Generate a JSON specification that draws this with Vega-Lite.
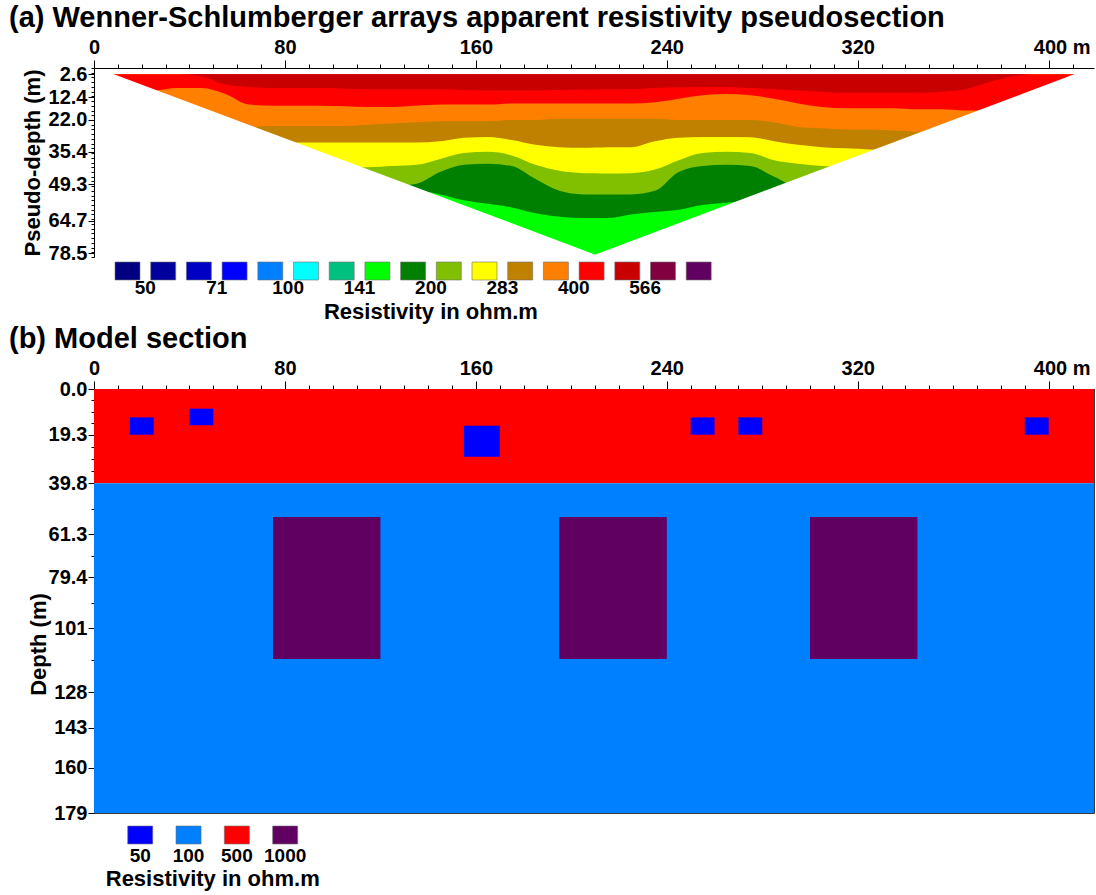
{
  "$schema": "https://vega.github.io/schema/vega-lite/v6.json",
  "background": "white",
  "padding": {"left": 8, "top": 4, "right": 2, "bottom": 2},
  "bounds": "flush",
  "spacing": 5,
  "config": {
    "font": "Liberation Sans",
    "view": {"stroke": null},
    "axis": {
      "labelFont": "Liberation Sans", "labelFontWeight": "bold", "labelFontSize": 20, "labelColor": "black",
      "titleFont": "Liberation Sans", "titleFontWeight": "bold", "titleFontSize": 22, "titleColor": "black",
      "domainColor": "black", "tickColor": "black", "grid": false,
      "labelOverlap": false, "labelFlush": false, "labelBound": false, "zindex": 1
    },
    "title": {"font": "Liberation Sans", "fontWeight": "bold", "fontSize": 29, "color": "black", "anchor": "start", "frame": "group", "dx": -85, "offset": 4},
    "text": {"font": "Liberation Sans", "fontWeight": "bold", "color": "black"}
  },
  "datasets": {
    "pseudo": [
      {"x": 7.4, "b1": 2.6, "b2": 6, "b3": 30, "b4": 33, "b5": 42, "b6": 50, "b7": 55},
      {"x": 15, "b1": 2.6, "b2": 6.5, "b3": 30, "b4": 33, "b5": 42, "b6": 50, "b7": 55},
      {"x": 25, "b1": 2.6, "b2": 9.5, "b3": 30, "b4": 33, "b5": 42, "b6": 50, "b7": 55},
      {"x": 35, "b1": 2.6, "b2": 8.5, "b3": 30, "b4": 33, "b5": 42, "b6": 50, "b7": 55},
      {"x": 45, "b1": 3.5, "b2": 8.5, "b3": 30, "b4": 33, "b5": 42, "b6": 50, "b7": 55},
      {"x": 55, "b1": 7, "b2": 11, "b3": 30, "b4": 33, "b5": 42, "b6": 50, "b7": 55},
      {"x": 65, "b1": 8, "b2": 15.5, "b3": 25, "b4": 33, "b5": 42, "b6": 50, "b7": 55},
      {"x": 75, "b1": 8.5, "b2": 16, "b3": 24.5, "b4": 33, "b5": 42, "b6": 50, "b7": 55},
      {"x": 85, "b1": 8.5, "b2": 16, "b3": 24.5, "b4": 31.5, "b5": 42, "b6": 50, "b7": 55},
      {"x": 95, "b1": 8.5, "b2": 16, "b3": 24.5, "b4": 31.5, "b5": 42, "b6": 50, "b7": 55},
      {"x": 105, "b1": 8.8, "b2": 16.2, "b3": 24.5, "b4": 31.5, "b5": 42, "b6": 50, "b7": 55},
      {"x": 115, "b1": 9, "b2": 16.5, "b3": 24, "b4": 31.5, "b5": 42, "b6": 50, "b7": 55},
      {"x": 125, "b1": 9, "b2": 16.5, "b3": 23.5, "b4": 31.5, "b5": 41.5, "b6": 50, "b7": 55},
      {"x": 135, "b1": 9, "b2": 16, "b3": 23, "b4": 31.5, "b5": 41, "b6": 49, "b7": 52},
      {"x": 145, "b1": 9, "b2": 15.5, "b3": 22.5, "b4": 31, "b5": 38.5, "b6": 44, "b7": 53.5},
      {"x": 155, "b1": 9.3, "b2": 15.5, "b3": 22.5, "b4": 29.5, "b5": 36, "b6": 41, "b7": 56},
      {"x": 165, "b1": 9.5, "b2": 15.5, "b3": 22.5, "b4": 29.2, "b5": 35.5, "b6": 40.5, "b7": 57.5},
      {"x": 175, "b1": 9.5, "b2": 15, "b3": 22, "b4": 30.5, "b5": 37, "b6": 41.5, "b7": 59},
      {"x": 185, "b1": 9.5, "b2": 15, "b3": 22, "b4": 32.5, "b5": 41, "b6": 47, "b7": 61.5},
      {"x": 195, "b1": 9.3, "b2": 15, "b3": 21.5, "b4": 33.5, "b5": 43.5, "b6": 52, "b7": 63},
      {"x": 205, "b1": 9.2, "b2": 15, "b3": 21.5, "b4": 33.8, "b5": 44.5, "b6": 53.5, "b7": 63.5},
      {"x": 210, "b1": 9.1, "b2": 15, "b3": 21.5, "b4": 33.7, "b5": 44.6, "b6": 53.5, "b7": 63.5},
      {"x": 215, "b1": 9, "b2": 15, "b3": 21.5, "b4": 33.5, "b5": 44.7, "b6": 53.5, "b7": 63.5},
      {"x": 225, "b1": 9, "b2": 15, "b3": 21.5, "b4": 33.5, "b5": 44.5, "b6": 53.5, "b7": 62},
      {"x": 235, "b1": 8.5, "b2": 14.5, "b3": 21.5, "b4": 31, "b5": 43, "b6": 52, "b7": 61},
      {"x": 245, "b1": 8.2, "b2": 13, "b3": 22, "b4": 29.5, "b5": 39, "b6": 44, "b7": 60},
      {"x": 255, "b1": 8, "b2": 11.5, "b3": 22, "b4": 29.2, "b5": 36, "b6": 41.5, "b7": 58},
      {"x": 265, "b1": 8, "b2": 11, "b3": 22, "b4": 29.2, "b5": 35.5, "b6": 41, "b7": 57},
      {"x": 275, "b1": 8.5, "b2": 11.5, "b3": 22, "b4": 29.3, "b5": 36, "b6": 41.5, "b7": 56},
      {"x": 285, "b1": 9, "b2": 13, "b3": 23, "b4": 31, "b5": 39, "b6": 46, "b7": 55},
      {"x": 295, "b1": 9.5, "b2": 15, "b3": 25, "b4": 32.5, "b5": 40.5, "b6": 50, "b7": 55},
      {"x": 305, "b1": 10, "b2": 16.5, "b3": 25.5, "b4": 33.5, "b5": 41.5, "b6": 50, "b7": 55},
      {"x": 315, "b1": 10.5, "b2": 17, "b3": 26, "b4": 34, "b5": 42, "b6": 50, "b7": 55},
      {"x": 325, "b1": 10.5, "b2": 17, "b3": 26, "b4": 34.5, "b5": 42, "b6": 50, "b7": 55},
      {"x": 335, "b1": 10.5, "b2": 17, "b3": 26.5, "b4": 35, "b5": 42, "b6": 50, "b7": 55},
      {"x": 345, "b1": 10.5, "b2": 17.5, "b3": 27, "b4": 35, "b5": 42, "b6": 50, "b7": 55},
      {"x": 355, "b1": 10, "b2": 17.5, "b3": 28, "b4": 35, "b5": 42, "b6": 50, "b7": 55},
      {"x": 365, "b1": 9, "b2": 18, "b3": 28, "b4": 35, "b5": 42, "b6": 50, "b7": 55},
      {"x": 375, "b1": 6, "b2": 18, "b3": 28, "b4": 35, "b5": 42, "b6": 50, "b7": 55},
      {"x": 385, "b1": 3.5, "b2": 18, "b3": 28, "b4": 35, "b5": 42, "b6": 50, "b7": 55},
      {"x": 395, "b1": 2.6, "b2": 18, "b3": 28, "b4": 35, "b5": 42, "b6": 50, "b7": 55},
      {"x": 405, "b1": 2.6, "b2": 18, "b3": 28, "b4": 35, "b5": 42, "b6": 50, "b7": 55},
      {"x": 411.7, "b1": 2.6, "b2": 18, "b3": 28, "b4": 35, "b5": 42, "b6": 50, "b7": 55}
    ],
    "coverage": [
      {"x": 7.4, "depth": 2.6},
      {"x": 210, "depth": 79.3},
      {"x": 411.7, "depth": 2.6}
    ],
    "scaleA": [
      {"cls": 1, "color": "#000080", "label": "50"},
      {"cls": 2, "color": "#00009c", "label": ""},
      {"cls": 3, "color": "#0000c4", "label": "71"},
      {"cls": 4, "color": "#0000ff", "label": ""},
      {"cls": 5, "color": "#0080ff", "label": "100"},
      {"cls": 6, "color": "#00ffff", "label": ""},
      {"cls": 7, "color": "#00c080", "label": "141"},
      {"cls": 8, "color": "#00ff00", "label": ""},
      {"cls": 9, "color": "#008000", "label": "200"},
      {"cls": 10, "color": "#80c000", "label": ""},
      {"cls": 11, "color": "#ffff00", "label": "283"},
      {"cls": 12, "color": "#c08000", "label": ""},
      {"cls": 13, "color": "#ff8000", "label": "400"},
      {"cls": 14, "color": "#ff0000", "label": ""},
      {"cls": 15, "color": "#c80000", "label": "566"},
      {"cls": 16, "color": "#800040", "label": ""},
      {"cls": 17, "color": "#600060", "label": ""}
    ],
    "model": [
      {"x0": 0, "x1": 419, "d0": 0, "d1": 39.8, "res": 500},
      {"x0": 0, "x1": 419, "d0": 39.8, "d1": 179, "res": 100},
      {"x0": 15, "x1": 25, "d0": 12, "d1": 19.3, "res": 50},
      {"x0": 40, "x1": 50, "d0": 8.3, "d1": 15.3, "res": 50},
      {"x0": 155, "x1": 170, "d0": 15.5, "d1": 28.6, "res": 50},
      {"x0": 250, "x1": 260, "d0": 12, "d1": 19.3, "res": 50},
      {"x0": 270, "x1": 280, "d0": 12, "d1": 19.3, "res": 50},
      {"x0": 390, "x1": 400, "d0": 12, "d1": 19.3, "res": 50},
      {"x0": 75, "x1": 120, "d0": 54, "d1": 114, "res": 1000},
      {"x0": 195, "x1": 240, "d0": 54, "d1": 114, "res": 1000},
      {"x0": 300, "x1": 345, "d0": 54, "d1": 114, "res": 1000}
    ],
    "scaleB": [
      {"res": 50}, {"res": 100}, {"res": 500}, {"res": 1000}
    ]
  },
  "vconcat": [
    {
      "title": {"text": "(a) Wenner-Schlumberger arrays apparent resistivity pseudosection"},
      "width": 1000,
      "height": 189,
      "data": {"name": "pseudo"},
      "encoding": {
        "x": {
          "field": "x", "type": "quantitative",
          "scale": {"domain": [0, 419], "nice": false, "zero": false},
          "axis": {
            "orient": "top", "title": null, "format": "d",
            "values": [0, 10, 20, 30, 40, 50, 60, 70, 80, 90, 100, 110, 120, 130, 140, 150, 160, 170, 180, 190, 200, 210, 220, 230, 240, 250, 260, 270, 280, 290, 300, 310, 320, 330, 340, 350, 360, 370, 380, 390, 400, 410],
            "labelExpr": "datum.value % 80 === 0 ? (datum.value === 400 ? '400 m' : datum.label) : ''",
            "tickSize": {"condition": {"test": "datum.value % 80 === 0", "value": 8}, "value": 4},
            "labelOffset": {"condition": {"test": "datum.value === 400", "value": 13}, "value": 0},
            "labelPadding": 3
          }
        }
      },
      "layer": [
        {
          "mark": {"type": "area", "color": "#00ff00", "interpolate": "monotone"},
          "encoding": {
            "y": {"datum": 80, "type": "quantitative", "scale": {"domain": [0, 80], "reverse": true, "nice": false, "zero": false},
              "axis": {"title": "Pseudo-depth (m)", "titleX": -50, "values": [0, 2, 2.6, 4, 6, 8, 10, 12, 12.4, 14, 16, 18, 20, 22, 24, 26, 28, 30, 32, 34, 35.4, 36, 38, 40, 42, 44, 46, 48, 49.3, 50, 52, 54, 56, 58, 60, 62, 64, 64.7, 66, 68, 70, 72, 74, 76, 78, 78.5, 80], "labelExpr": "indexof([2.6, 12.4, 22, 35.4, 49.3, 64.7, 78.5], datum.value) >= 0 ? format(datum.value, '.1f') : ''", "tickSize": {"condition": {"test": "indexof([2.6, 12.4, 22, 35.4, 49.3, 64.7, 78.5], datum.value) >= 0", "value": 6}, "value": 3}, "labelPadding": 1}},
            "y2": {"datum": 2.6}
          }
        },
        {
          "mark": {"type": "area", "color": "#008000", "interpolate": "monotone"},
          "encoding": {
            "y": {"field": "b7", "type": "quantitative", "scale": {"domain": [0, 80], "reverse": true, "nice": false, "zero": false},
              "axis": {"title": "Pseudo-depth (m)", "titleX": -50, "values": [0, 2, 2.6, 4, 6, 8, 10, 12, 12.4, 14, 16, 18, 20, 22, 24, 26, 28, 30, 32, 34, 35.4, 36, 38, 40, 42, 44, 46, 48, 49.3, 50, 52, 54, 56, 58, 60, 62, 64, 64.7, 66, 68, 70, 72, 74, 76, 78, 78.5, 80], "labelExpr": "indexof([2.6, 12.4, 22, 35.4, 49.3, 64.7, 78.5], datum.value) >= 0 ? format(datum.value, '.1f') : ''", "tickSize": {"condition": {"test": "indexof([2.6, 12.4, 22, 35.4, 49.3, 64.7, 78.5], datum.value) >= 0", "value": 6}, "value": 3}, "labelPadding": 1}},
            "y2": {"datum": 2.6}
          }
        },
        {
          "mark": {"type": "area", "color": "#80c000", "interpolate": "monotone"},
          "encoding": {
            "y": {"field": "b6", "type": "quantitative", "scale": {"domain": [0, 80], "reverse": true, "nice": false, "zero": false},
              "axis": {"title": "Pseudo-depth (m)", "titleX": -50, "values": [0, 2, 2.6, 4, 6, 8, 10, 12, 12.4, 14, 16, 18, 20, 22, 24, 26, 28, 30, 32, 34, 35.4, 36, 38, 40, 42, 44, 46, 48, 49.3, 50, 52, 54, 56, 58, 60, 62, 64, 64.7, 66, 68, 70, 72, 74, 76, 78, 78.5, 80], "labelExpr": "indexof([2.6, 12.4, 22, 35.4, 49.3, 64.7, 78.5], datum.value) >= 0 ? format(datum.value, '.1f') : ''", "tickSize": {"condition": {"test": "indexof([2.6, 12.4, 22, 35.4, 49.3, 64.7, 78.5], datum.value) >= 0", "value": 6}, "value": 3}, "labelPadding": 1}},
            "y2": {"datum": 2.6}
          }
        },
        {
          "mark": {"type": "area", "color": "#ffff00", "interpolate": "monotone"},
          "encoding": {
            "y": {"field": "b5", "type": "quantitative", "scale": {"domain": [0, 80], "reverse": true, "nice": false, "zero": false},
              "axis": {"title": "Pseudo-depth (m)", "titleX": -50, "values": [0, 2, 2.6, 4, 6, 8, 10, 12, 12.4, 14, 16, 18, 20, 22, 24, 26, 28, 30, 32, 34, 35.4, 36, 38, 40, 42, 44, 46, 48, 49.3, 50, 52, 54, 56, 58, 60, 62, 64, 64.7, 66, 68, 70, 72, 74, 76, 78, 78.5, 80], "labelExpr": "indexof([2.6, 12.4, 22, 35.4, 49.3, 64.7, 78.5], datum.value) >= 0 ? format(datum.value, '.1f') : ''", "tickSize": {"condition": {"test": "indexof([2.6, 12.4, 22, 35.4, 49.3, 64.7, 78.5], datum.value) >= 0", "value": 6}, "value": 3}, "labelPadding": 1}},
            "y2": {"datum": 2.6}
          }
        },
        {
          "mark": {"type": "area", "color": "#c08000", "interpolate": "monotone"},
          "encoding": {
            "y": {"field": "b4", "type": "quantitative", "scale": {"domain": [0, 80], "reverse": true, "nice": false, "zero": false},
              "axis": {"title": "Pseudo-depth (m)", "titleX": -50, "values": [0, 2, 2.6, 4, 6, 8, 10, 12, 12.4, 14, 16, 18, 20, 22, 24, 26, 28, 30, 32, 34, 35.4, 36, 38, 40, 42, 44, 46, 48, 49.3, 50, 52, 54, 56, 58, 60, 62, 64, 64.7, 66, 68, 70, 72, 74, 76, 78, 78.5, 80], "labelExpr": "indexof([2.6, 12.4, 22, 35.4, 49.3, 64.7, 78.5], datum.value) >= 0 ? format(datum.value, '.1f') : ''", "tickSize": {"condition": {"test": "indexof([2.6, 12.4, 22, 35.4, 49.3, 64.7, 78.5], datum.value) >= 0", "value": 6}, "value": 3}, "labelPadding": 1}},
            "y2": {"datum": 2.6}
          }
        },
        {
          "mark": {"type": "area", "color": "#ff8000", "interpolate": "monotone"},
          "encoding": {
            "y": {"field": "b3", "type": "quantitative", "scale": {"domain": [0, 80], "reverse": true, "nice": false, "zero": false},
              "axis": {"title": "Pseudo-depth (m)", "titleX": -50, "values": [0, 2, 2.6, 4, 6, 8, 10, 12, 12.4, 14, 16, 18, 20, 22, 24, 26, 28, 30, 32, 34, 35.4, 36, 38, 40, 42, 44, 46, 48, 49.3, 50, 52, 54, 56, 58, 60, 62, 64, 64.7, 66, 68, 70, 72, 74, 76, 78, 78.5, 80], "labelExpr": "indexof([2.6, 12.4, 22, 35.4, 49.3, 64.7, 78.5], datum.value) >= 0 ? format(datum.value, '.1f') : ''", "tickSize": {"condition": {"test": "indexof([2.6, 12.4, 22, 35.4, 49.3, 64.7, 78.5], datum.value) >= 0", "value": 6}, "value": 3}, "labelPadding": 1}},
            "y2": {"datum": 2.6}
          }
        },
        {
          "mark": {"type": "area", "color": "#ff0000", "interpolate": "monotone"},
          "encoding": {
            "y": {"field": "b2", "type": "quantitative", "scale": {"domain": [0, 80], "reverse": true, "nice": false, "zero": false},
              "axis": {"title": "Pseudo-depth (m)", "titleX": -50, "values": [0, 2, 2.6, 4, 6, 8, 10, 12, 12.4, 14, 16, 18, 20, 22, 24, 26, 28, 30, 32, 34, 35.4, 36, 38, 40, 42, 44, 46, 48, 49.3, 50, 52, 54, 56, 58, 60, 62, 64, 64.7, 66, 68, 70, 72, 74, 76, 78, 78.5, 80], "labelExpr": "indexof([2.6, 12.4, 22, 35.4, 49.3, 64.7, 78.5], datum.value) >= 0 ? format(datum.value, '.1f') : ''", "tickSize": {"condition": {"test": "indexof([2.6, 12.4, 22, 35.4, 49.3, 64.7, 78.5], datum.value) >= 0", "value": 6}, "value": 3}, "labelPadding": 1}},
            "y2": {"datum": 2.6}
          }
        },
        {
          "mark": {"type": "area", "color": "#c80000", "interpolate": "monotone"},
          "encoding": {
            "y": {"field": "b1", "type": "quantitative", "scale": {"domain": [0, 80], "reverse": true, "nice": false, "zero": false},
              "axis": {"title": "Pseudo-depth (m)", "titleX": -50, "values": [0, 2, 2.6, 4, 6, 8, 10, 12, 12.4, 14, 16, 18, 20, 22, 24, 26, 28, 30, 32, 34, 35.4, 36, 38, 40, 42, 44, 46, 48, 49.3, 50, 52, 54, 56, 58, 60, 62, 64, 64.7, 66, 68, 70, 72, 74, 76, 78, 78.5, 80], "labelExpr": "indexof([2.6, 12.4, 22, 35.4, 49.3, 64.7, 78.5], datum.value) >= 0 ? format(datum.value, '.1f') : ''", "tickSize": {"condition": {"test": "indexof([2.6, 12.4, 22, 35.4, 49.3, 64.7, 78.5], datum.value) >= 0", "value": 6}, "value": 3}, "labelPadding": 1}},
            "y2": {"datum": 2.6}
          }
        },
        {
          "data": {"name": "coverage"},
          "mark": {"type": "area", "color": "white", "stroke": "white", "strokeWidth": 1.5},
          "encoding": {
            "y": {"field": "depth", "type": "quantitative", "scale": {"domain": [0, 80], "reverse": true, "nice": false, "zero": false},
              "axis": {"title": "Pseudo-depth (m)", "titleX": -50, "values": [0, 2, 2.6, 4, 6, 8, 10, 12, 12.4, 14, 16, 18, 20, 22, 24, 26, 28, 30, 32, 34, 35.4, 36, 38, 40, 42, 44, 46, 48, 49.3, 50, 52, 54, 56, 58, 60, 62, 64, 64.7, 66, 68, 70, 72, 74, 76, 78, 78.5, 80], "labelExpr": "indexof([2.6, 12.4, 22, 35.4, 49.3, 64.7, 78.5], datum.value) >= 0 ? format(datum.value, '.1f') : ''", "tickSize": {"condition": {"test": "indexof([2.6, 12.4, 22, 35.4, 49.3, 64.7, 78.5], datum.value) >= 0", "value": 6}, "value": 3}, "labelPadding": 1}},
            "y2": {"datum": 80}
          }
        },
        {
          "data": {"values": [{}]},
          "mark": {"type": "rule", "color": "#333333", "strokeWidth": 1},
          "encoding": {
            "x": {"datum": 419, "type": "quantitative", "scale": {"domain": [0, 419], "nice": false, "zero": false},
              "axis": {"orient": "top", "title": null, "format": "d", "values": [0, 10, 20, 30, 40, 50, 60, 70, 80, 90, 100, 110, 120, 130, 140, 150, 160, 170, 180, 190, 200, 210, 220, 230, 240, 250, 260, 270, 280, 290, 300, 310, 320, 330, 340, 350, 360, 370, 380, 390, 400, 410], "labelExpr": "datum.value % 80 === 0 ? (datum.value === 400 ? '400 m' : datum.label) : ''", "tickSize": {"condition": {"test": "datum.value % 80 === 0", "value": 8}, "value": 4}, "labelOffset": {"condition": {"test": "datum.value === 400", "value": 13}, "value": 0}, "labelPadding": 3}},
            "y": {"datum": 0, "type": "quantitative", "scale": {"domain": [0, 80], "reverse": true, "nice": false, "zero": false},
              "axis": {"title": "Pseudo-depth (m)", "titleX": -50, "values": [0, 2, 2.6, 4, 6, 8, 10, 12, 12.4, 14, 16, 18, 20, 22, 24, 26, 28, 30, 32, 34, 35.4, 36, 38, 40, 42, 44, 46, 48, 49.3, 50, 52, 54, 56, 58, 60, 62, 64, 64.7, 66, 68, 70, 72, 74, 76, 78, 78.5, 80], "labelExpr": "indexof([2.6, 12.4, 22, 35.4, 49.3, 64.7, 78.5], datum.value) >= 0 ? format(datum.value, '.1f') : ''", "tickSize": {"condition": {"test": "indexof([2.6, 12.4, 22, 35.4, 49.3, 64.7, 78.5], datum.value) >= 0", "value": 6}, "value": 3}, "labelPadding": 1}},
            "y2": {"datum": 80}
          }
        }
      ]
    },
    {
      "width": 1000,
      "height": 122,
      "data": {"name": "scaleA"},
      "encoding": {
        "x": {"field": "cls", "type": "ordinal", "axis": null, "scale": {"range": [21, 617.2], "paddingInner": 0.3, "paddingOuter": 0}}
      },
      "layer": [
        {
          "mark": {"type": "rect", "stroke": "#707070", "strokeWidth": 0.6},
          "encoding": {
            "color": {"field": "color", "type": "nominal", "scale": null},
            "y": {"datum": 0, "type": "quantitative", "scale": {"domain": [0, 122], "reverse": true, "nice": false, "zero": false}, "axis": null},
            "y2": {"datum": 18}
          }
        },
        {
          "mark": {"type": "text", "fontSize": 19, "baseline": "middle"},
          "encoding": {
            "text": {"field": "label"},
            "x": {"field": "cls", "type": "ordinal", "bandPosition": 1.214},
            "y": {"datum": 26, "type": "quantitative", "axis": null}
          }
        },
        {
          "data": {"values": [{"caption": "Resistivity in ohm.m"}]},
          "mark": {"type": "text", "fontSize": 22, "baseline": "middle"},
          "encoding": {
            "text": {"field": "caption"},
            "x": {"datum": 9, "type": "ordinal", "bandPosition": 1.214},
            "y": {"datum": 49.5, "type": "quantitative", "axis": null}
          }
        }
      ]
    },
    {
      "title": {"text": "(b) Model section"},
      "width": 1000,
      "height": 424,
      "view": {"stroke": "#3a3a3a", "strokeWidth": 1},
      "data": {"name": "model"},
      "mark": {"type": "rect"},
      "encoding": {
        "x": {
          "field": "x0", "type": "quantitative",
          "scale": {"domain": [0, 419], "nice": false, "zero": false},
          "axis": {
            "orient": "top", "title": null, "format": "d",
            "values": [0, 10, 20, 30, 40, 50, 60, 70, 80, 90, 100, 110, 120, 130, 140, 150, 160, 170, 180, 190, 200, 210, 220, 230, 240, 250, 260, 270, 280, 290, 300, 310, 320, 330, 340, 350, 360, 370, 380, 390, 400, 410],
            "labelExpr": "datum.value % 80 === 0 ? (datum.value === 400 ? '400 m' : datum.label) : ''",
            "tickSize": {"condition": {"test": "datum.value % 80 === 0", "value": 8}, "value": 4},
            "labelOffset": {"condition": {"test": "datum.value === 400", "value": 13}, "value": 0},
            "labelPadding": 3
          }
        },
        "x2": {"field": "x1"},
        "y": {
          "field": "d0", "type": "quantitative",
          "scale": {"domain": [0, 179], "reverse": true, "nice": false, "zero": false},
          "axis": {
            "title": "Depth (m)", "titleX": -44, "titleY": 255,
            "values": [0, 4.8, 9.7, 14.5, 19.3, 24.4, 29.5, 34.6, 39.8, 50.5, 61.3, 70.3, 79.4, 90.2, 101, 114.5, 128, 143, 160, 179],
            "labelExpr": "indexof([0, 19.3, 39.8, 61.3, 79.4], datum.value) >= 0 ? format(datum.value, '.1f') : (indexof([101, 128, 143, 160, 179], datum.value) >= 0 ? format(datum.value, 'd') : '')",
            "tickSize": {"condition": {"test": "indexof([0, 19.3, 39.8, 61.3, 79.4, 101, 128, 143, 160, 179], datum.value) >= 0", "value": 6}, "value": 3},
            "labelPadding": 1
          }
        },
        "y2": {"field": "d1"},
        "color": {
          "field": "res", "type": "ordinal",
          "scale": {"domain": [50, 100, 500, 1000], "range": ["#0000ff", "#0080ff", "#ff0000", "#600060"]},
          "legend": null
        }
      }
    },
    {
      "width": 1000,
      "height": 70,
      "data": {"name": "scaleB"},
      "encoding": {
        "x": {"field": "res", "type": "ordinal", "axis": null, "scale": {"range": [33.7, 203.7], "paddingInner": 0.482, "paddingOuter": 0}}
      },
      "layer": [
        {
          "mark": {"type": "rect", "stroke": "#707070", "strokeWidth": 0.6},
          "encoding": {
            "color": {"field": "res", "type": "ordinal", "scale": {"domain": [50, 100, 500, 1000], "range": ["#0000ff", "#0080ff", "#ff0000", "#600060"]}, "legend": null},
            "y": {"datum": 8, "type": "quantitative", "scale": {"domain": [0, 70], "reverse": true, "nice": false, "zero": false}, "axis": null},
            "y2": {"datum": 26}
          }
        },
        {
          "mark": {"type": "text", "fontSize": 19, "baseline": "middle"},
          "encoding": {
            "text": {"field": "res", "type": "nominal"},
            "x": {"field": "res", "type": "ordinal", "bandPosition": 0.5},
            "y": {"datum": 38, "type": "quantitative", "axis": null}
          }
        },
        {
          "data": {"values": [{"caption": "Resistivity in ohm.m"}]},
          "mark": {"type": "text", "fontSize": 22, "baseline": "middle"},
          "encoding": {
            "text": {"field": "caption"},
            "x": {"datum": 100, "type": "ordinal", "bandPosition": 1.466},
            "y": {"datum": 60.5, "type": "quantitative", "axis": null}
          }
        }
      ]
    }
  ]
}
